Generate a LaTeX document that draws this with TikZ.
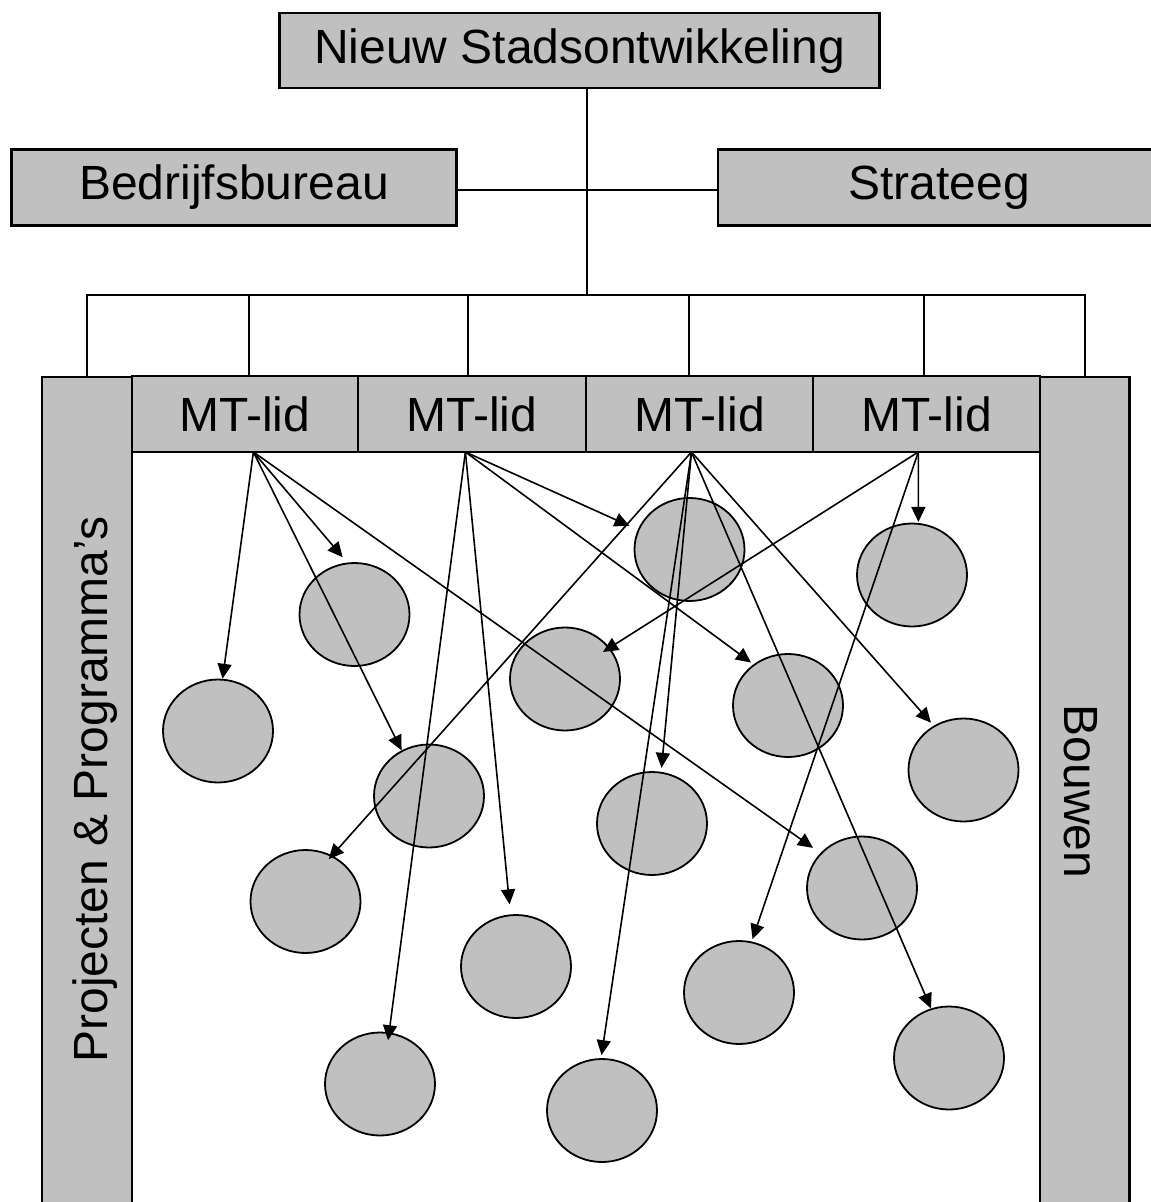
\documentclass[tikz,border=0pt]{standalone}
\usepackage{fontspec}
\setmainfont{Liberation Sans}
\usetikzlibrary{arrows.meta,shapes.geometric,calc}
\definecolor{boxgray}{HTML}{C0C0C0}
\begin{document}
\begin{tikzpicture}[x=1pt,y=-1pt,
  box/.style={draw=black, fill=boxgray, line width=2.2pt, inner sep=0pt, font=\fontsize{48}{56}\selectfont},
  circ/.style={ellipse, draw=black, fill=boxgray, line width=1.8pt, inner sep=0pt, minimum width=110pt, minimum height=103pt},
  link/.style={line width=1.8pt},
  arr/.style={line width=1.6pt, -{Triangle[length=15pt,width=14pt]}},
  vtext/.style={font=\fontsize{48}{56}\selectfont, inner sep=0pt, text height=40pt, text depth=0pt}
]
\useasboundingbox (0,0) rectangle (1151,1202);
\fill[white] (0,0) rectangle (1151,1202);

% top level
\node[box, minimum width=600pt, minimum height=75pt] (top) at (579.5,50.7) {Nieuw Stadsontwikkeling};
\node[box, minimum width=445pt, minimum height=76pt] (bb) at (234,187.5) {Bedrijfsbureau};
\node[box, minimum width=442pt, minimum height=76pt] (st) at (939,187.5) {Strateeg};

% frame columns
\node[box, minimum width=90pt, minimum height=850pt, anchor=north] (proj) at (87,376) {};
\node[box, minimum width=89.5pt, minimum height=850pt, anchor=north] (bouw) at (1084.75,376) {};
\node[vtext, rotate=90] (ptext) at (87,789.5) {Projecten \& Programma’s};
\node[vtext, rotate=-90] (btext) at (1084.75,791.5) {Bouwen};

% MT boxes
\node[box, minimum width=226pt, minimum height=76pt] (m1) at (245,414) {MT-lid};
\node[box, minimum width=228pt, minimum height=76pt] (m2) at (472,414) {MT-lid};
\node[box, minimum width=227pt, minimum height=76pt] (m3) at (699.5,414) {MT-lid};
\node[box, minimum width=227pt, minimum height=76pt] (m4) at (926.5,414) {MT-lid};

% connectors top
\coordinate (bus) at (587,295);
\coordinate (hl) at (587,190);
\coordinate (t1) at (249,295);
\coordinate (t2) at (468,295);
\coordinate (t3) at (689,295);
\coordinate (t4) at (924,295);
\draw[link] (top.south -| bus) -- (bus);
\draw[link] (bb.east |- hl) -- (st.west |- hl);
\draw[link] (proj.north) -- (proj.north |- bus) -- (bouw.north |- bus) -- (bouw.north);
\draw[link] (t1) -- (t1 |- m1.north);
\draw[link] (t2) -- (t2 |- m2.north);
\draw[link] (t3) -- (t3 |- m3.north);
\draw[link] (t4) -- (t4 |- m4.north);

% circles
\node[circ] (cA) at (218,731) {};
\node[circ] (cB) at (354.5,614.5) {};
\node[circ] (cC) at (429,796) {};
\node[circ] (cD) at (565,679) {};
\node[circ] (cE) at (689.5,549.5) {};
\node[circ] (cF) at (912,575) {};
\node[circ] (cG) at (788,705.5) {};
\node[circ] (cH) at (963.5,770) {};
\node[circ] (cI) at (652,823.5) {};
\node[circ] (cJ) at (305.5,901.5) {};
\node[circ] (cK) at (516,966.5) {};
\node[circ] (cL) at (380,1084) {};
\node[circ] (cM) at (862,888) {};
\node[circ] (cN) at (739,992.5) {};
\node[circ] (cO) at (949,1058) {};
\node[circ] (cP) at (602,1110.5) {};

% arrow origins
\coordinate (o1) at (253.4,452);
\coordinate (o2) at (465.4,452);
\coordinate (o3) at (691.5,452);
\coordinate (o4) at (918.3,452);

% arrows
\draw[arr] (o1) -- (cA.85);
\draw[arr, shorten >=7pt] (o1) -- (cB.98);
\draw[arr] (o1) -- (cC.121);
\draw[arr, shorten >=9pt] (o1) -- (cM.140);

\draw[arr, shorten >=9pt] (o2) -- (cE.159);
\draw[arr, shorten >=3pt] (o2) -- (cG.130);
\draw[arr, shorten >=-8pt] (o2) -- (cL.80);
\draw[arr, shorten >=10pt] (o2) -- (cK.96);

\draw[arr, shorten >=-5pt] (o3) -- (cJ.60);
\draw[arr, shorten >=4pt] (o3) -- (cI.80);
\draw[arr, shorten >=3pt] (o3) -- (cP.91);
\draw[arr] (o3) -- (cO.110);
\draw[arr, shorten >=4pt] (o3) -- (cH.124);

\draw[arr, shorten >=-8pt] (o4) -- (cD.35);
\draw[arr, shorten >=1pt] (o4) -- (cF.83);
\draw[arr, shorten >=2.5pt] (o4) -- (cN.76);
\end{tikzpicture}
\end{document}
